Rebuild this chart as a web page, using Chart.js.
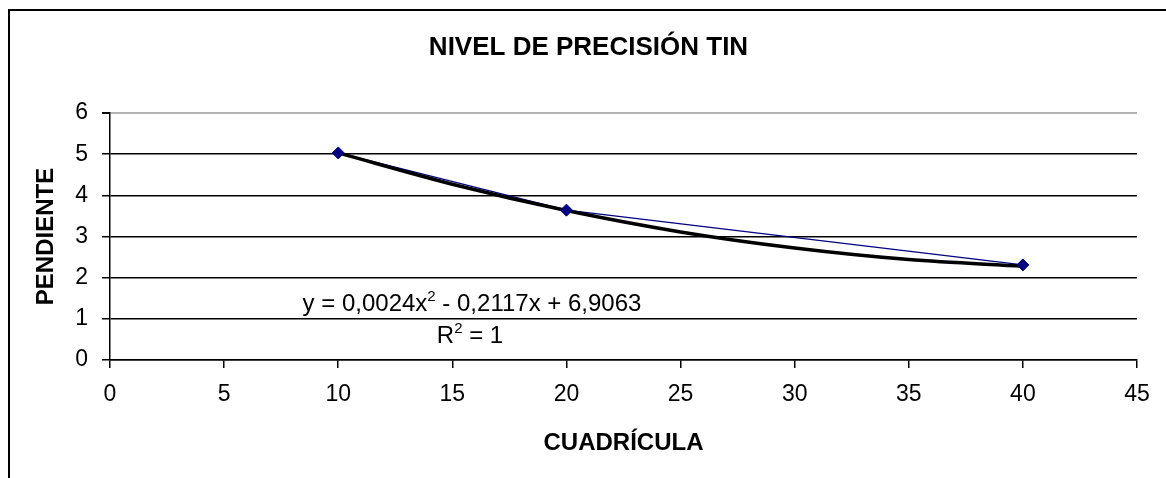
<!DOCTYPE html>
<html>
<head>
<meta charset="utf-8">
<script src="https://cdn.jsdelivr.net/npm/chart.js@4/dist/chart.umd.min.js"></script>
<style>
  html, body { margin: 0; padding: 0; background: #fff; }
  #wrap { width: 1166px; height: 478px; position: relative; }
</style>
</head>
<body>
<div id="wrap"><canvas id="c" width="1166" height="478"></canvas></div>
<script>
// ---- data ----
const cuadricula = [10, 20, 40];
const pendiente = [5.03, 3.64, 2.31];
// polynomial trendline (as drawn in the picture), sampled along x
const trendX = [10, 15, 20, 25, 30, 35, 40];
const trendY = [5.03, 4.27, 3.63, 3.11, 2.72, 2.44, 2.28];
const xTicks = [0, 5, 10, 15, 20, 25, 30, 35, 40, 45];
const yTicks = [0, 1, 2, 3, 4, 5, 6];
const titleText = 'NIVEL DE PRECISIÓN TIN';
const xTitle = 'CUADRÍCULA';
const yTitle = 'PENDIENTE';
const eqMain1 = 'y = 0,0024x';
const eqSup = '2';
const eqMain2 = ' - 0,2117x + 6,9063';
const r2Main = 'R';
const r2Rest = ' = 1';

const FONT = "'Liberation Sans', Arial, sans-serif";

const seriesPts = cuadricula.map((x, i) => ({ x: x, y: pendiente[i] }));
const trendPts = trendX.map((x, i) => ({ x: x, y: trendY[i] }));

const framePlugin = {
  id: 'frame',
  afterLayout(chart) {
    // Excel-style title centred over the whole frame rather than the canvas
    if (chart.titleBlock) { chart.titleBlock.left = 40; }
  },
  beforeDraw(chart) {
    const ctx = chart.ctx;
    ctx.save();
    ctx.fillStyle = '#fff';
    ctx.fillRect(0, 0, chart.width, chart.height);
    ctx.fillStyle = '#000';
    ctx.fillRect(8, 9, 2, chart.height - 9);
    ctx.fillRect(8, 9, chart.width - 8, 2);
    ctx.restore();
  }
};

const eqPlugin = {
  id: 'equation',
  afterDatasetsDraw(chart) {
    const ctx = chart.ctx;
    const a = chart.chartArea;
    ctx.save();
    ctx.fillStyle = '#000';
    ctx.textBaseline = 'alphabetic';
    ctx.textAlign = 'left';
    const big = '24px ' + FONT;
    const small = '15px ' + FONT;
    // equation line
    ctx.font = big;
    const w1 = ctx.measureText(eqMain1).width;
    const w3 = ctx.measureText(eqMain2).width;
    ctx.font = small;
    const w2 = ctx.measureText(eqSup).width;
    const total = w1 + w2 + w3;
    const cx = a.left + 362;
    let x = cx - total / 2;
    const base1 = 311;
    ctx.font = big; ctx.fillText(eqMain1, x, base1); x += w1;
    ctx.font = small; ctx.fillText(eqSup, x, base1 - 10); x += w2;
    ctx.font = big; ctx.fillText(eqMain2, x, base1);
    // R^2 line
    ctx.font = big;
    const r1 = ctx.measureText(r2Main).width;
    const r3 = ctx.measureText(r2Rest).width;
    ctx.font = small;
    const r2 = ctx.measureText(eqSup).width;
    const tot2 = r1 + r2 + r3;
    let x2 = a.left + 360 - tot2 / 2;
    const base2 = 343;
    ctx.font = big; ctx.fillText(r2Main, x2, base2); x2 += r1;
    ctx.font = small; ctx.fillText(eqSup, x2, base2 - 10); x2 += r2;
    ctx.font = big; ctx.fillText(r2Rest, x2, base2);
    ctx.restore();
  }
};

new Chart(document.getElementById('c'), {
  type: 'scatter',
  data: {
    datasets: [
      {
        label: 'markers',
        data: seriesPts,
        showLine: false,
        pointStyle: 'rectRot',
        pointRadius: 6,
        pointBackgroundColor: '#000080',
        pointBorderColor: '#000080',
        pointBorderWidth: 1
      },
      {
        label: 'tendencia',
        data: trendPts,
        showLine: true,
        borderColor: '#000',
        borderWidth: 3.5,
        cubicInterpolationMode: 'monotone',
        pointRadius: 0
      },
      {
        label: 'PENDIENTE',
        data: seriesPts,
        showLine: true,
        borderColor: '#000080',
        borderWidth: 1.2,
        pointRadius: 0
      }
    ]
  },
  options: {
    responsive: false,
    animation: false,
    events: [],
    layout: { padding: { left: 0, right: 29, top: 0, bottom: 0 } },
    plugins: {
      legend: { display: false },
      tooltip: { enabled: false },
      title: {
        display: true,
        text: titleText,
        color: '#000',
        font: { family: FONT, size: 26, weight: 'bold', lineHeight: 1.2 },
        padding: { top: 32.4, bottom: 49.4 }
      }
    },
    scales: {
      x: {
        type: 'linear',
        min: 0, max: 45,
        afterBuildTicks(s) { s.ticks = xTicks.map(v => ({ value: v })); },
        afterFit(s) { s.height = 118; },
        grid: { display: true, drawOnChartArea: false, drawTicks: true, tickLength: 8, color: '#000', tickColor: '#000', lineWidth: 1.5 },
        border: { display: true, color: '#000', width: 1.5 },
        ticks: { color: '#000', font: { family: FONT, size: 23 }, padding: 13, maxRotation: 0, autoSkip: false },
        title: {
          display: true, text: xTitle, color: '#000',
          font: { family: FONT, size: 24, weight: 'bold', lineHeight: 1.2 },
          padding: { top: 0, bottom: 20.6 }
        }
      },
      y: {
        type: 'linear',
        min: 0, max: 6,
        afterBuildTicks(s) { s.ticks = yTicks.map(v => ({ value: v })); },
        afterFit(s) { s.width = 110; },
        grid: {
          display: true, drawTicks: true, tickLength: 8,
          color: ctx => (ctx.tick && ctx.tick.value === 6) ? '#b4b4b4' : '#000',
          tickColor: '#000',
          lineWidth: ctx => (ctx.tick && ctx.tick.value === 6) ? 2 : 1.5
        },
        border: { display: true, color: '#000', width: 1.5 },
        ticks: { color: '#000', font: { family: FONT, size: 23 }, padding: 14 },
        title: {
          display: true, text: yTitle, color: '#000',
          font: { family: FONT, size: 24, weight: 'bold', lineHeight: 1.2 },
          padding: { top: 31.6, bottom: 0 }
        }
      }
    }
  },
  plugins: [framePlugin, eqPlugin]
});
</script>
</body>
</html>
